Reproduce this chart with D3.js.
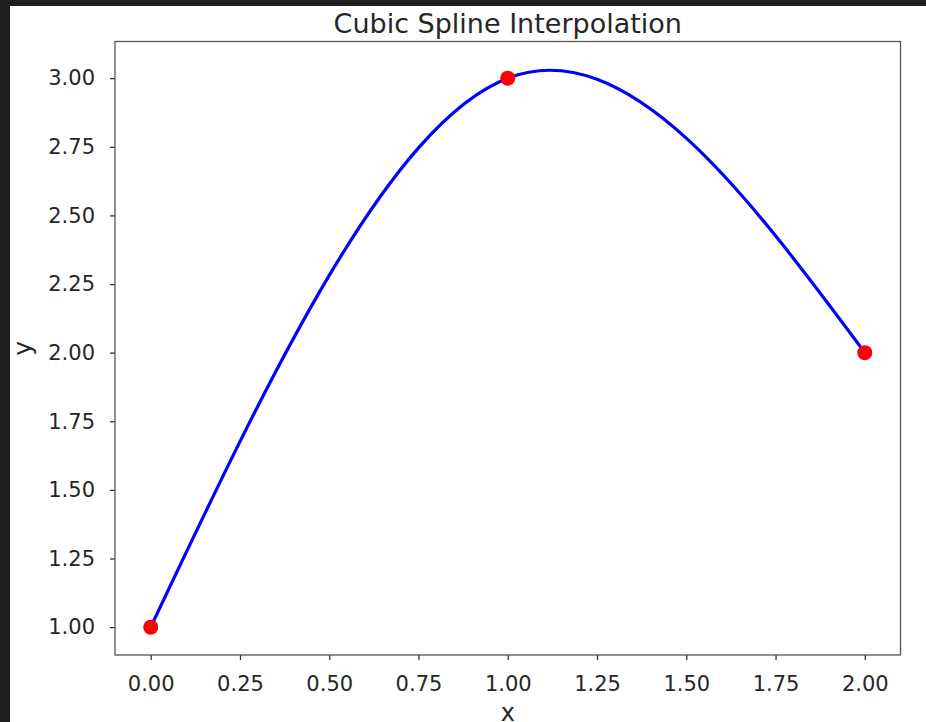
<!DOCTYPE html>
<html>
<head>
<meta charset="utf-8">
<script src="https://cdn.jsdelivr.net/npm/d3@7"></script>
<style>
  html, body { margin: 0; padding: 0; background: #1f1f1f; }
  svg { display: block; }
  text { font-family: "DejaVu Sans", sans-serif; fill: #262626; }
</style>
</head>
<body>
<svg id="chart"></svg>
<script>
// known points of the spline
var xs = [0, 1, 2];
var ys = [1, 3, 2];
var xTicks = [0, 0.25, 0.5, 0.75, 1, 1.25, 1.5, 1.75, 2];
var yTicks = [1, 1.25, 1.5, 1.75, 2, 2.25, 2.5, 2.75, 3];
var points = xs.map((x, i) => ({x: x, y: ys[i]}));

var width = 926, height = 722;
var margin = {top: 41.5, right: 25.5, bottom: 67, left: 115};

var svg = d3.select('#chart')
  .attr('width', width)
  .attr('height', height);

// white figure area, dark strip at left and top
svg.append('rect')
  .attr('x', 10).attr('y', 6)
  .attr('width', width - 10).attr('height', height - 6)
  .attr('fill', '#fff');

var x = d3.scaleLinear()
  .domain([-0.1, 2.1])
  .range([margin.left, width - margin.right]);

var y = d3.scaleLinear()
  .domain([0.8985, 3.1335])
  .range([height - margin.bottom, margin.top]);

var fmt = d3.format('.2f');

var xAxis = svg.append('g')
  .attr('transform', `translate(0,${height - margin.bottom})`)
  .call(d3.axisBottom(x).tickValues(xTicks).tickFormat(fmt).tickSize(5).tickPadding(16));

var yAxis = svg.append('g')
  .attr('transform', `translate(${margin.left},0)`)
  .call(d3.axisLeft(y).tickValues(yTicks).tickFormat(fmt).tickSize(5).tickPadding(15));

[xAxis, yAxis].forEach(g => {
  g.select('.domain').remove();
  g.selectAll('.tick line').attr('stroke', '#333').attr('stroke-width', 1.3);
  g.selectAll('.tick text').attr('font-size', 21).attr('fill', '#262626');
});

// natural cubic spline through the points
var line = d3.line()
  .x(d => x(d.x))
  .y(d => y(d.y))
  .curve(d3.curveNatural);

svg.append('path')
  .datum(points)
  .attr('fill', 'none')
  .attr('stroke', '#0000ff')
  .attr('stroke-width', 3.2)
  .attr('d', line);

svg.selectAll('circle')
  .data(points)
  .enter().append('circle')
    .attr('cx', d => x(d.x))
    .attr('cy', d => y(d.y))
    .attr('r', 7.5)
    .attr('fill', '#ff0000');

// frame
svg.append('rect')
  .attr('x', margin.left)
  .attr('y', margin.top)
  .attr('width', width - margin.left - margin.right)
  .attr('height', height - margin.top - margin.bottom)
  .attr('fill', 'none')
  .attr('stroke', '#555')
  .attr('stroke-width', 1.3);

svg.append('text')
  .attr('x', (margin.left + width - margin.right) / 2)
  .attr('y', 33)
  .attr('text-anchor', 'middle')
  .attr('font-size', 27)
  .text('Cubic Spline Interpolation');

svg.append('text')
  .attr('x', (margin.left + width - margin.right) / 2)
  .attr('y', 721)
  .attr('text-anchor', 'middle')
  .attr('font-size', 24)
  .text('x');

svg.append('text')
  .attr('transform', `translate(31,${(margin.top + height - margin.bottom) / 2}) rotate(-90)`)
  .attr('text-anchor', 'middle')
  .attr('font-size', 25)
  .text('y');
</script>
</body>
</html>
